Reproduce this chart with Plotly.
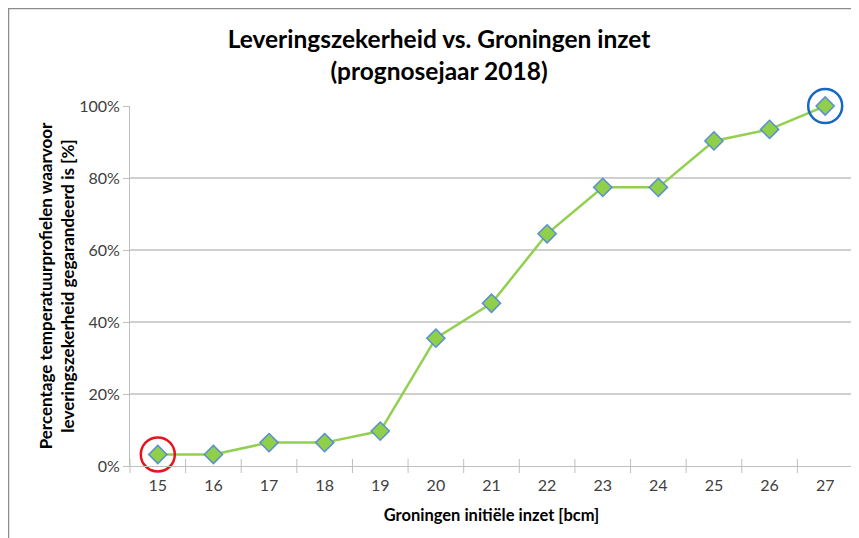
import plotly.graph_objects as go

# Data
inzet = [15, 16, 17, 18, 19, 20, 21, 22, 23, 24, 25, 26, 27]  # bcm
zekerheid = [3.2, 3.2, 6.5, 6.5, 9.7, 35.5, 45.2, 64.5, 77.4, 77.4, 90.3, 93.5, 100.0]  # %

# Highlighted points (circled in the original)
rood_x = [15]
rood_y = [3.2]
blauw_x = [27]
blauw_y = [100.0]

y_ticks = [0, 20, 40, 60, 80, 100]
y_ticklabels = ["0%", "20%", "40%", "60%", "80%", "100%"]

FONT = "Lato, 'Open Sans', sans-serif"
TXT = "#404040"

# the page body adds an 8px offset, so the figure is 8px smaller than the window
W, H = 851, 530
ML, MR, MT, MB = 122, 6, 98, 72
PW, PH = W - ML - MR, H - MT - MB

fig = go.Figure()
fig.add_trace(go.Scatter(
    x=inzet, y=zekerheid, mode="lines+markers",
    line=dict(color="#92d050", width=2.5),
    marker=dict(symbol="diamond", size=14, color="#8fcf4a",
                line=dict(color="#5b8fd0", width=1.5)),
    showlegend=False, cliponaxis=False))
fig.add_trace(go.Scatter(
    x=rood_x, y=rood_y, mode="markers",
    marker=dict(symbol="circle-open", size=34, color="#e8131b",
                line=dict(color="#e8131b", width=2.5)),
    showlegend=False, cliponaxis=False))
fig.add_trace(go.Scatter(
    x=blauw_x, y=blauw_y, mode="markers",
    marker=dict(symbol="circle-open", size=34, color="#1668c4",
                line=dict(color="#1668c4", width=2.5)),
    showlegend=False, cliponaxis=False))

# x tick marks between categories
fig.add_trace(go.Scatter(x=[v - 0.5 for v in inzet] + [27.5], y=[0] * 14,
                         mode="markers", hoverinfo="skip", showlegend=False,
                         marker=dict(symbol="line-ns", size=10,
                                     line=dict(color="#bfbfbf", width=1)),
                         cliponaxis=False))

# outer chart frame
fig.add_shape(type="rect", xref="paper", yref="paper",
              x0=(-ML + 0.5) / PW, x1=(W - ML + 20) / PW,
              y0=-(MB + 20) / PH, y1=(PH + MT - 0.5) / PH,
              line=dict(color="#8c8c8c", width=1.5), layer="below")

fig.update_layout(
    width=W, height=H,
    margin=dict(l=ML, r=MR, t=MT, b=MB),
    paper_bgcolor="white", plot_bgcolor="white",
    font=dict(family=FONT, color=TXT, size=16),
    title=dict(text="<b>Leveringszekerheid vs. Groningen inzet<br>(prognosejaar 2018)</b>",
               x=0.5065, xanchor="center", y=0.925, yanchor="top",
               font=dict(family=FONT, size=24.5, color="#000000")),
    xaxis=dict(range=[14.5, 27.5], tickmode="array", tickvals=inzet,
               ticktext=[str(v) for v in inzet],
               showgrid=False, showline=True, linecolor="#bfbfbf", linewidth=1,
               ticks="", zeroline=False, ticklabelstandoff=5,
               tickfont=dict(size=16, color=TXT),
               title=dict(text="<b>Groningen initiële inzet [bcm]</b>",
                          font=dict(size=16.5, color="#000000"), standoff=16)),
    yaxis=dict(range=[0, 100], tickmode="array", tickvals=y_ticks,
               ticktext=y_ticklabels,
               showgrid=True, gridcolor="#d0d0d0", gridwidth=1.5,
               showline=True, linecolor="#bfbfbf", linewidth=1,
               ticks="outside", ticklen=6, tickcolor="#bfbfbf",
               zeroline=False,
               tickfont=dict(size=16, color=TXT),
               title=dict(text="<b>Percentage temperatuurprofielen waarvoor<br>leveringszekerheid gegarandeerd is [%]</b>",
                          font=dict(size=17, color="#000000"), standoff=0)),
)

fig.write_html("out.html")
